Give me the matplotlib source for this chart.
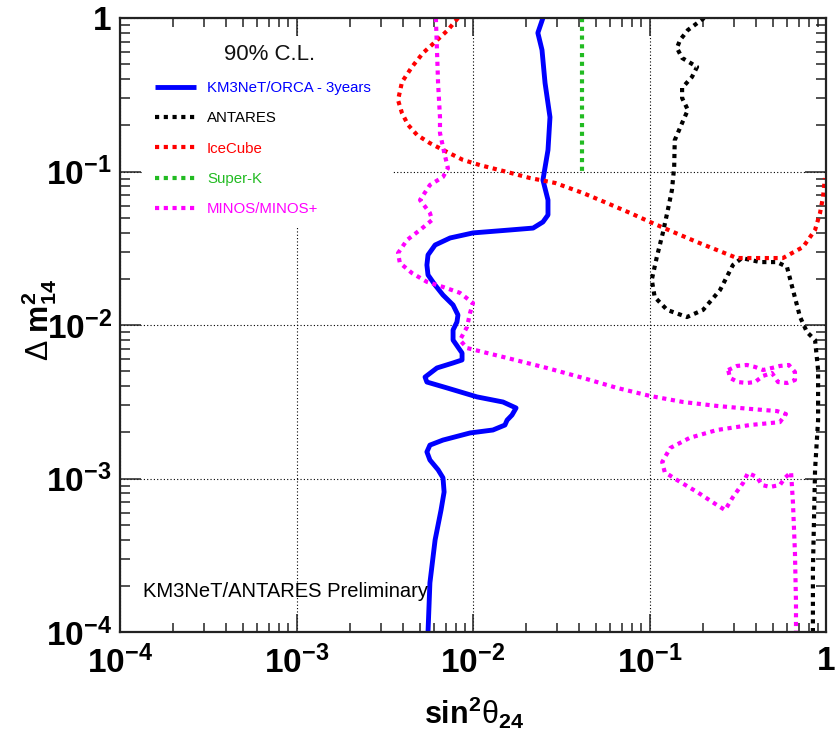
import numpy as np
import matplotlib
matplotlib.use("Agg")
import matplotlib.pyplot as plt
from matplotlib.patches import Rectangle
from matplotlib.ticker import FixedLocator, LogLocator, NullFormatter

plt.rcParams['font.family'] = ['Liberation Sans', 'DejaVu Sans']
plt.rcParams['mathtext.fontset'] = 'custom'
plt.rcParams['mathtext.rm'] = 'Liberation Sans'
plt.rcParams['mathtext.bf'] = 'Liberation Sans:bold'
plt.rcParams['mathtext.it'] = 'Liberation Sans:italic'

# ---------------- data ----------------
orca_x = [0.0249, 0.0233, 0.0246, 0.0256, 0.0273, 0.0266, 0.0249, 0.0266, 0.0266, 0.0249,
          0.0219, 0.0162, 0.0100, 0.00742, 0.00610, 0.00556, 0.00548, 0.00556, 0.00610,
          0.00676, 0.00771, 0.00822, 0.00811, 0.00771, 0.00771, 0.00867, 0.00867, 0.00771,
          0.00625, 0.00535, 0.00548, 0.00713, 0.01055, 0.01479, 0.01754, 0.01663, 0.0156,
          0.01517, 0.01297, 0.00962, 0.00676, 0.00570, 0.00548, 0.00570, 0.00634, 0.00676,
          0.00686, 0.00659, 0.00610, 0.00570, 0.00556]
orca_y = [1.0, 0.80, 0.619, 0.377, 0.226, 0.138, 0.0880, 0.0652, 0.0521, 0.0469,
          0.0428, 0.0416, 0.0398, 0.0369, 0.0332, 0.0286, 0.0246, 0.0212, 0.0182,
          0.01568, 0.01350, 0.01162, 0.01046, 0.00928, 0.00798, 0.00657, 0.00592, 0.00566,
          0.00525, 0.00458, 0.00425, 0.00389, 0.0034, 0.00315, 0.00288, 0.00259, 0.00240,
          0.00223, 0.00207, 0.00198, 0.00178, 0.00165, 0.00149, 0.00132, 0.00114, 0.00101,
          0.000817, 0.000623, 0.000398, 0.000209, 0.0001]

antares_x = [0.204, 0.165, 0.149, 0.143, 0.153, 0.186, 0.174, 0.153, 0.153, 0.165, 0.153,
             0.139, 0.138, 0.134, 0.127, 0.119, 0.110, 0.103, 0.107, 0.126, 0.163, 0.201,
             0.251, 0.297, 0.334, 0.423, 0.527, 0.601, 0.650, 0.713, 0.780, 0.867, 0.902,
             0.902, 0.867, 0.855, 0.843, 0.843]
antares_y = [1.0, 0.835, 0.719, 0.638, 0.549, 0.480, 0.413, 0.350, 0.301, 0.252, 0.207,
             0.160, 0.107, 0.0757, 0.0561, 0.0398, 0.0277, 0.0197, 0.0152, 0.01253, 0.01127,
             0.01253, 0.0169, 0.0246, 0.0273, 0.0257, 0.0257, 0.0239, 0.0169, 0.01127,
             0.0090, 0.00798, 0.00509, 0.00240, 0.00114, 0.000537, 0.000253, 0.0001]

icecube_x = [0.00822, 0.00721, 0.00610, 0.00521, 0.00451, 0.00396, 0.00376, 0.00396, 0.00429,
             0.00482, 0.00570, 0.00713, 0.00877, 0.01097, 0.0156, 0.0210, 0.0292, 0.0420,
             0.0574, 0.0776, 0.1007, 0.136, 0.186, 0.241, 0.313, 0.406, 0.570, 0.741, 0.867,
             0.925, 0.962, 0.986]
icecube_y = [1.0, 0.835, 0.698, 0.592, 0.480, 0.383, 0.292, 0.240, 0.201, 0.173, 0.153,
             0.134, 0.119, 0.110, 0.0993, 0.0907, 0.0842, 0.0724, 0.0623, 0.0537, 0.0469,
             0.0404, 0.0347, 0.0308, 0.0273, 0.0273, 0.0273, 0.0322, 0.0416, 0.0537, 0.0682,
             0.0907]

superk_x = [0.0416, 0.0416]
superk_y = [1.0, 0.1]

minos_x = [0.00616, 0.00625, 0.00634, 0.00650, 0.00650, 0.00686, 0.00721, 0.00676, 0.00570,
           0.00501, 0.00570, 0.00586, 0.00501, 0.00423, 0.00376, 0.00385, 0.00451, 0.00548,
           0.00676, 0.00843, 0.0100, 0.00962, 0.00925, 0.00843, 0.00925, 0.0114, 0.0156,
           0.0202, 0.0262, 0.0420, 0.0655, 0.1007, 0.155, 0.241, 0.371, 0.527, 0.593, 0.548,
           0.371, 0.241, 0.169, 0.131, 0.118, 0.122, 0.143, 0.186, 0.241, 0.268, 0.297, 0.339,
           0.361, 0.406, 0.434, 0.482, 0.548, 0.586, 0.634, 0.650, 0.667, 0.676, 0.676]
minos_y = [1.0, 0.619, 0.377, 0.226, 0.178, 0.134, 0.105, 0.0921, 0.0817, 0.0652, 0.0537,
           0.0483, 0.0416, 0.0358, 0.0294, 0.0254, 0.0218, 0.0191, 0.0177, 0.0162, 0.0139,
           0.01197, 0.0097, 0.00798, 0.00708, 0.00667, 0.00610, 0.00566, 0.00525, 0.00452,
           0.00389, 0.00345, 0.00315, 0.00297, 0.00284, 0.00275, 0.00263, 0.00233, 0.00223,
           0.00207, 0.00184, 0.00158, 0.00128, 0.00110, 0.000978, 0.000817, 0.000672,
           0.000623, 0.000757, 0.000935, 0.001086, 0.001023, 0.000907, 0.000881, 0.000907,
           0.00101, 0.00110, 0.000692, 0.000327, 0.000155, 0.0001]

minos_island_x = [0.279, 0.313, 0.356, 0.396, 0.440, 0.494, 0.548, 0.616, 0.667, 0.667, 0.601,
                  0.535, 0.494, 0.440, 0.396, 0.356, 0.317, 0.286, 0.279]
minos_island_y = [0.00509, 0.00541, 0.00549, 0.00533, 0.00509, 0.00525, 0.00541, 0.00549,
                  0.00494, 0.00438, 0.00419, 0.00425, 0.00487, 0.00466, 0.00425, 0.00419,
                  0.00425, 0.00452, 0.00509]

labels = ["KM3NeT/ORCA - 3years", "ANTARES", "IceCube", "Super-K", "MINOS/MINOS+"]
colors = ["#0000ff", "#000000", "#ff0000", "#22bb22", "#ff00ff"]

tick_values = [1e-4, 1e-3, 1e-2, 1e-1, 1.0]
tick_labels = [r'$\mathbf{10^{-4}}$', r'$\mathbf{10^{-3}}$', r'$\mathbf{10^{-2}}$',
               r'$\mathbf{10^{-1}}$', r'$\mathbf{1}$']

# ---------------- figure ----------------
fig = plt.figure(figsize=(8.38, 7.31), dpi=100)
ax = fig.add_axes([120/838, 1-632/731, 706/838, 614/731])
ax.set_xscale('log')
ax.set_yscale('log')
ax.set_xlim(1e-4, 1)
ax.set_ylim(1e-4, 1)

dot = (0, (1, 1.1))
lw_dot = 3.0
h_orca, = ax.plot(orca_x, orca_y, color=colors[0], lw=3.5, solid_joinstyle='round',
                  solid_capstyle='butt')
h_ant, = ax.plot(antares_x, antares_y, color=colors[1], lw=lw_dot, linestyle=dot)
h_ice, = ax.plot(icecube_x, icecube_y, color=colors[2], lw=lw_dot, linestyle=dot)
h_sk, = ax.plot(superk_x, superk_y, color=colors[3], lw=lw_dot, linestyle=dot)
h_min, = ax.plot(minos_x, minos_y, color=colors[4], lw=lw_dot, linestyle=dot)
ax.plot(minos_island_x, minos_island_y, color=colors[4], lw=lw_dot, linestyle=dot)

# ticks
for axis in (ax.xaxis, ax.yaxis):
    axis.set_major_locator(FixedLocator(tick_values))
    axis.set_minor_locator(LogLocator(base=10, subs=np.arange(2, 10), numticks=20))
    axis.set_minor_formatter(NullFormatter())
ax.set_xticklabels(tick_labels)
ax.set_yticklabels(tick_labels)
ax.tick_params(which='both', direction='in', top=True, right=True, width=1.1, color='#222222')
ax.tick_params(axis='x', which='major', length=13, pad=10, labelsize=24)
ax.tick_params(axis='x', which='minor', length=6.5)
ax.tick_params(axis='y', which='major', length=15, pad=6, labelsize=24)
ax.tick_params(axis='y', which='minor', length=7.5)
for s in ax.spines.values():
    s.set_linewidth(1.6)
    s.set_color('#222222')

ax.grid(True, which='major', color='black', linestyle=(0, (1, 2)), linewidth=0.8)

# axis titles
fig.text(474/838, 1-713/731, r'$\mathbf{sin^{2}}\mathrm{\theta}_{\mathbf{24}}$',
         fontsize=22, ha='center', va='center')
fig.text(39/838, 1-320/731, r'$\Delta\ \mathbf{m^{2}_{14}}$',
         fontsize=22, rotation=90, ha='center', va='center')

ax.text(0.0326, 0.057, "KM3NeT/ANTARES Preliminary", transform=ax.transAxes,
        fontsize=14.5, ha='left', va='baseline')

# legend pad (white box, kept clear of the ticks), title and entries
box_x0 = (142-120)/706
box_y0 = (632-227)/614
box_y1 = (632-37)/614
ax.add_patch(Rectangle((box_x0, box_y0), (393-142)/706, box_y1-box_y0,
                       transform=ax.transAxes, facecolor='white', edgecolor='none',
                       zorder=4))
ax.text((270-120)/706, (632-55)/614, "90% C.L.", transform=ax.transAxes,
        fontsize=16, ha='center', va='center', color='#111111', zorder=6)
leg = ax.legend([h_orca, h_ant, h_ice, h_sk, h_min], labels,
                loc='upper left', bbox_to_anchor=((155-120)/706, (632-81)/614),
                borderaxespad=0.0, borderpad=0.0, fontsize=10.8,
                handlelength=2.75, handletextpad=0.72, labelspacing=1.09,
                frameon=False, labelcolor='linecolor')

fig.savefig("out.png", dpi=100)
